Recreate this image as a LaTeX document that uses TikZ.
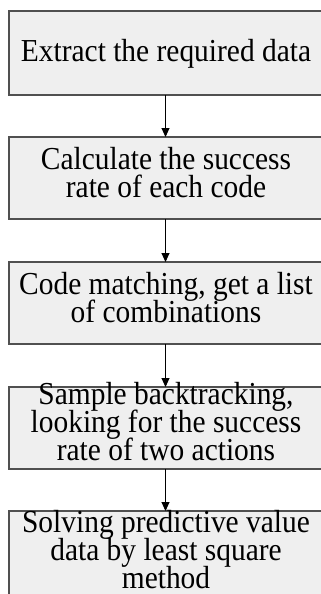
\documentclass[tikz,border=0pt]{standalone}
\usepackage{fontspec}
\newfontfamily\cfont[FakeStretch=0.92]{Liberation Serif}
\usetikzlibrary{arrows.meta}
\definecolor{boxfill}{HTML}{EFEFEF}
\definecolor{boxline}{HTML}{505050}
\tikzset{
  stepbox/.style={draw=boxline, fill=boxfill, line width=1.4pt, rectangle,
    minimum width=313pt, inner sep=0pt, outer sep=0pt},
  steptext/.style={inner sep=0pt, align=center,
    font={\cfont\fontsize{32}{28}\selectfont\lineskiplimit=-50pt}},
  flow/.style={draw=black, line width=0.9pt, -{Triangle[length=9pt,width=8pt]}}
}
\begin{document}
\begin{tikzpicture}[x=1pt,y=1pt]
\useasboundingbox[fill=white] (0,0) rectangle (321,-594);
\node[stepbox, minimum height=84pt] (b1) at (165.5,-53) {};
\node[stepbox, minimum height=82pt] (b2) at (165.5,-178) {};
\node[stepbox, minimum height=82pt] (b3) at (165.5,-303) {};
\node[stepbox, minimum height=82pt] (b4) at (165.5,-428) {};
\node[stepbox, minimum height=89pt] (b5) at (165.5,-555.5) {};
\node[steptext] (t1) at (166,-54) {Extract the required data};
\node[steptext] (t2) at (166,-173) {Calculate the success\\rate of each code};
\node[steptext] (t3) at (166,-298) {Code matching, get a list\\of combinations};
\node[steptext] (t4) at (166,-422) {Sample backtracking,\\looking for the success\\rate of two actions};
\node[steptext] (t5) at (166,-549.5) {Solving predictive value\\data by least square\\method};
\draw[flow] (b1.south) -- (b2.north);
\draw[flow] (b2.south) -- (b3.north);
\draw[flow] (b3.south) -- (b4.north);
\draw[flow] (b4.south) -- (b5.north);
\end{tikzpicture}
\end{document}
